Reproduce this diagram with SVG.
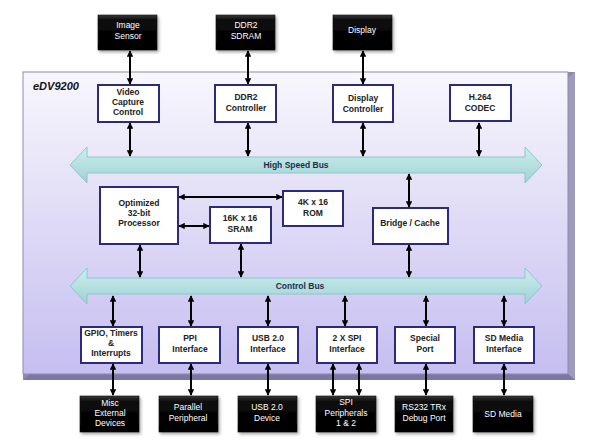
<svg xmlns="http://www.w3.org/2000/svg" width="600" height="440" viewBox="0 0 600 440">
<style>
.mod rect{fill:#ffffff;stroke:#2b2a7b;stroke-width:2}
.mod text{font-family:"Liberation Sans",Arial,sans-serif;font-weight:bold;font-size:8.5px;fill:#222;text-anchor:middle}
.ext rect{fill:url(#blk);stroke:#111;stroke-width:0.6;filter:url(#sh)}
.ext text{font-family:"Liberation Sans",Arial,sans-serif;font-size:8.5px;fill:#ffffff;text-anchor:middle}
.bus polygon{fill:url(#busg);stroke:#8cc6c8;stroke-width:1}
.bus text{font-family:"Liberation Sans",Arial,sans-serif;font-weight:bold;font-size:8.5px;fill:#1e2e4a;text-anchor:middle}
#connectors line{stroke:#000;stroke-width:2;marker-start:url(#ah);marker-end:url(#ah)}
</style>
<defs>
<linearGradient id="face" x1="0" y1="0" x2="0" y2="1">
<stop offset="0" stop-color="#f8f7fc"/>
<stop offset="1" stop-color="#c5bef0"/>
</linearGradient>
<linearGradient id="busg" x1="0" y1="0" x2="0" y2="1">
<stop offset="0" stop-color="#cdeeee"/>
<stop offset="0.5" stop-color="#b6e0e1"/>
<stop offset="1" stop-color="#9fd2d4"/>
</linearGradient>
<linearGradient id="blk" x1="0" y1="0" x2="0" y2="1">
<stop offset="0" stop-color="#3a3a3a"/>
<stop offset="0.15" stop-color="#0a0a0a"/>
<stop offset="1" stop-color="#000"/>
</linearGradient>
<filter id="sh" x="-20%" y="-20%" width="150%" height="150%">
<feDropShadow dx="1.5" dy="2" stdDeviation="1.5" flood-color="#000" flood-opacity="0.35"/>
</filter>
<marker id="ah" viewBox="0 0 10 10" refX="9" refY="5" markerWidth="3.2" markerHeight="3.2" orient="auto-start-reverse">
<path d="M0,0 L10,5 L0,10 z" fill="#000"/>
</marker>
</defs>
<rect width="600" height="440" fill="#ffffff"/>

<g id="chip">
<polygon points="23,72 575,72 575,380 23,380" fill="#8f8aad"/>
<polygon points="575,72 568,78 568,374 575,380" fill="#9e9abb"/>
<polygon points="23,380 30,374 568,374 575,380" fill="#7d78a3"/>
<rect x="23" y="72" width="545" height="302" fill="url(#face)" stroke="#8d89b5" stroke-width="1"/>
<text x="33" y="90" font-family="'Liberation Sans',Arial,sans-serif" font-size="11px" font-weight="bold" font-style="italic" fill="#111">eDV9200</text>
</g>

<g id="hsb" class="bus">
<polygon points="70,165 87,147 87,157 525,157 525,147 542,165 525,183 525,173 87,173 87,183"/>
<text x="296" y="168">High Speed  Bus</text>
</g>
<g id="cbus" class="bus">
<polygon points="70,286 87,268 87,278 525,278 525,268 542,286 525,304 525,294 87,294 87,304"/>
<text x="300" y="289">Control Bus</text>
</g>

<g id="connectors">
<line x1="130" y1="51" x2="130" y2="84"/>
<line x1="248" y1="51" x2="248" y2="84"/>
<line x1="363" y1="51" x2="363" y2="84"/>
<line x1="130" y1="123" x2="130" y2="156"/>
<line x1="248" y1="123" x2="248" y2="156"/>
<line x1="363" y1="123" x2="363" y2="156"/>
<line x1="479" y1="123" x2="479" y2="156"/>
<line x1="409" y1="174" x2="409" y2="207"/>
<line x1="409" y1="245" x2="409" y2="277"/>
<line x1="140" y1="245" x2="140" y2="277"/>
<line x1="241" y1="244" x2="241" y2="277"/>
<line x1="179" y1="197" x2="282" y2="197"/>
<line x1="179" y1="226" x2="209" y2="226"/>
<line x1="113" y1="296" x2="113" y2="326"/>
<line x1="191" y1="296" x2="191" y2="326"/>
<line x1="268" y1="296" x2="268" y2="326"/>
<line x1="345" y1="296" x2="345" y2="326"/>
<line x1="426" y1="296" x2="426" y2="326"/>
<line x1="504" y1="296" x2="504" y2="326"/>
<line x1="113" y1="364" x2="113" y2="395"/>
<line x1="191" y1="364" x2="191" y2="395"/>
<line x1="268" y1="364" x2="268" y2="395"/>
<line x1="333" y1="364" x2="333" y2="395"/>
<line x1="359" y1="364" x2="359" y2="395"/>
<line x1="426" y1="364" x2="426" y2="395"/>
<line x1="504" y1="364" x2="504" y2="395"/>
</g>

<g id="image-sensor" class="ext"><rect x="98" y="15" width="59" height="35"/><text x="128" y="28">Image</text><text x="128" y="39">Sensor</text></g>
<g id="ddr2-sdram" class="ext"><rect x="216" y="15" width="59" height="35"/><text x="246" y="28">DDR2</text><text x="246" y="39">SDRAM</text></g>
<g id="display" class="ext"><rect x="333" y="15" width="59" height="35"/><text x="362" y="33">Display</text></g>

<g id="video-capture" class="mod"><rect x="98" y="85" width="61" height="37"/><text x="128" y="95">Video</text><text x="128" y="105">Capture</text><text x="128" y="115">Control</text></g>
<g id="ddr2-controller" class="mod"><rect x="215" y="85" width="61" height="37"/><text x="246" y="100">DDR2</text><text x="246" y="111">Controller</text></g>
<g id="display-controller" class="mod"><rect x="333" y="85" width="60" height="37"/><text x="363" y="101">Display</text><text x="363" y="112">Controller</text></g>
<g id="h264" class="mod"><rect x="450" y="85" width="61" height="36"/><text x="480" y="100">H.264</text><text x="480" y="111">CODEC</text></g>

<g id="processor" class="mod"><rect x="100" y="187" width="78" height="57"/><text x="139" y="206">Optimized</text><text x="139" y="216">32-bit</text><text x="139" y="226">Processor</text></g>
<g id="rom" class="mod"><rect x="283" y="191" width="60" height="35"/><text x="313" y="205">4K x 16</text><text x="313" y="216">ROM</text></g>
<g id="sram" class="mod"><rect x="210" y="207" width="61" height="36"/><text x="240" y="221">16K x 16</text><text x="240" y="232">SRAM</text></g>
<g id="bridge" class="mod"><rect x="373" y="208" width="75" height="36"/><text x="410" y="226">Bridge / Cache</text></g>

<g id="gpio" class="mod"><rect x="81" y="327" width="61" height="36"/><text x="111" y="336">GPIO, Timers</text><text x="111" y="346">&amp;</text><text x="111" y="356">Interrupts</text></g>
<g id="ppi" class="mod"><rect x="159" y="327" width="61" height="36"/><text x="190" y="341">PPI</text><text x="190" y="352">Interface</text></g>
<g id="usb" class="mod"><rect x="238" y="327" width="60" height="36"/><text x="268" y="341">USB 2.0</text><text x="268" y="352">Interface</text></g>
<g id="spi" class="mod"><rect x="317" y="327" width="60" height="36"/><text x="347" y="341">2 X SPI</text><text x="347" y="352">Interface</text></g>
<g id="special" class="mod"><rect x="395" y="327" width="60" height="36"/><text x="425" y="341">Special</text><text x="425" y="352">Port</text></g>
<g id="sd-if" class="mod"><rect x="474" y="327" width="60" height="36"/><text x="504" y="341">SD Media</text><text x="504" y="352">Interface</text></g>

<g id="misc" class="ext"><rect x="80" y="396" width="59" height="36"/><text x="110" y="406">Misc</text><text x="110" y="416">External</text><text x="110" y="426">Devices</text></g>
<g id="parallel" class="ext"><rect x="159" y="396" width="59" height="36"/><text x="188" y="410">Parallel</text><text x="188" y="421">Peripheral</text></g>
<g id="usb-dev" class="ext"><rect x="238" y="396" width="59" height="36"/><text x="267" y="410">USB 2.0</text><text x="267" y="421">Device</text></g>
<g id="spi-per" class="ext"><rect x="316" y="396" width="60" height="36"/><text x="346" y="405">SPI</text><text x="346" y="416">Peripherals</text><text x="346" y="426">1 &amp; 2</text></g>
<g id="rs232" class="ext"><rect x="395" y="396" width="58" height="36"/><text x="424" y="410">RS232 TRx</text><text x="424" y="421">Debug Port</text></g>
<g id="sd-media" class="ext"><rect x="473" y="396" width="60" height="36"/><text x="503" y="417">SD Media</text></g>
</svg>
